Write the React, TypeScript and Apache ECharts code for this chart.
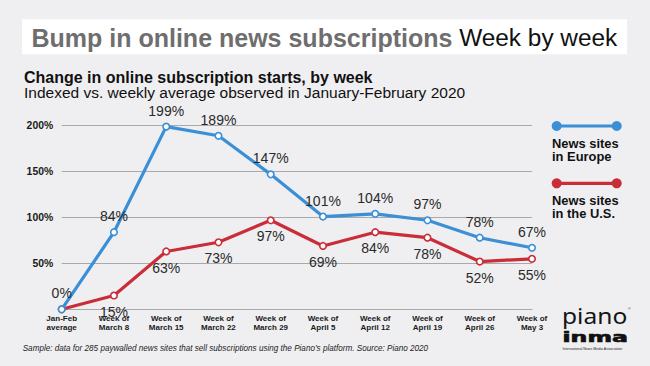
import React, { useEffect, useRef } from "react";
import * as echarts from "echarts";

const categories = [
  "Jan-Feb\naverage",
  "Week of\nMarch 8",
  "Week of\nMarch 15",
  "Week of\nMarch 22",
  "Week of\nMarch 29",
  "Week of\nApril 5",
  "Week of\nApril 12",
  "Week of\nApril 19",
  "Week of\nApril 26",
  "Week of\nMay 3",
];
const europeValues = [0, 84, 199, 189, 147, 101, 104, 97, 78, 67];
const usValues = [0, 15, 63, 73, 97, 69, 84, 78, 52, 55];
const seriesNames = ["News sites\nin Europe", "News sites\nin the U.S."];
const yMin = 0;
const yMax = 200;
const yInterval = 50;

const BLUE = "#3b8fd6";
const RED = "#c92d38";
const FONT = "'Liberation Sans', Arial, Helvetica, sans-serif";

export default function App() {
  const ref = useRef<HTMLDivElement>(null);
  useEffect(() => {
    if (!ref.current) return;
    const chart = echarts.init(ref.current, null, { renderer: "svg" });
    const legendItems = [
      { color: BLUE, name: seriesNames[0], y: 126 },
      { color: RED, name: seriesNames[1], y: 183.3 },
    ];
    const graphic: any[] = [
      {
        type: "rect",
        shape: { x: 22, y: 19.3, width: 605, height: 35 },
        style: { fill: "#ffffff" },
        silent: true,
      },
      {
        type: "text",
        x: 31.5,
        y: 37.5,
        style: {
          text: "{b|Bump in online news subscriptions}{r| Week by week}",
          verticalAlign: "middle",
          rich: {
            b: { fontFamily: FONT, fontSize: 25, fontWeight: "bold", fill: "#6e6e6e" },
            r: { fontFamily: FONT, fontSize: 24.4, fontWeight: "normal", fill: "#111111" },
          },
        },
      },
      {
        type: "text",
        x: 24,
        y: 77,
        style: {
          text: "Change in online subscription starts, by week",
          fontFamily: FONT,
          fontSize: 16,
          fontWeight: "bold",
          fill: "#111111",
          verticalAlign: "middle",
        },
      },
      {
        type: "text",
        x: 24,
        y: 92.3,
        style: {
          text: "Indexed vs. weekly average observed in January-February 2020",
          fontFamily: FONT,
          fontSize: 15.5,
          fill: "#111111",
          verticalAlign: "middle",
        },
      },
      {
        type: "text",
        x: 22.7,
        y: 348,
        style: {
          text: "Sample: data for 285 paywalled news sites that sell subscriptions using the Piano\u2019s platform. Source: Piano 2020",
          fontFamily: FONT,
          fontSize: 8.15,
          fontStyle: "italic",
          fill: "#222222",
          verticalAlign: "middle",
        },
      },
      {
        type: "text",
        x: 562,
        y: 316,
        scaleX: 1.17,
        style: {
          text: "piano",
          fontFamily: "'Noto Sans', sans-serif",
          fontSize: 21,
          fill: "#151515",
          verticalAlign: "middle",
        },
      },
      {
        type: "text",
        x: 628,
        y: 309,
        style: {
          text: "\u00ae",
          fontFamily: FONT,
          fontSize: 3.5,
          fill: "#333333",
          verticalAlign: "middle",
        },
      },
      {
        type: "text",
        x: 562.5,
        y: 337.5,
        scaleX: 1.75,
        style: {
          text: "inma",
          fontFamily: "'DejaVu Sans', sans-serif",
          fontSize: 13.5,
          fontWeight: "bold",
          fill: "#111111",
          stroke: "#111111",
          lineWidth: 0.6,
          verticalAlign: "middle",
        },
      },
      {
        type: "text",
        x: 562.5,
        y: 349,
        style: {
          text: "International News Media Association",
          fontFamily: FONT,
          fontSize: 3.6,
          fill: "#222222",
          verticalAlign: "middle",
        },
      },
    ];
    legendItems.forEach((it) => {
      const lines = it.name.split("\n");
      graphic.push(
        {
          type: "line",
          shape: { x1: 556.7, y1: it.y, x2: 616.7, y2: it.y },
          style: { stroke: it.color, lineWidth: 3.2 },
        },
        { type: "circle", shape: { cx: 556.7, cy: it.y, r: 5 }, style: { fill: it.color } },
        { type: "circle", shape: { cx: 616.7, cy: it.y, r: 5 }, style: { fill: it.color } }
      );
      lines.forEach((ln, i) => {
        graphic.push({
          type: "text",
          x: 552,
          y: it.y + 17 + i * 13.1,
          style: {
            text: ln,
            fontFamily: FONT,
            fontSize: 12.9,
            fontWeight: "bold",
            fill: "#111111",
            verticalAlign: "middle",
          },
        });
      });
    });

    const labelStyle = {
      show: true,
      fontFamily: FONT,
      fontSize: 14,
      color: "#2a2a2a",
      distance: 5,
    };

    chart.setOption({
      animation: false,
      backgroundColor: "#efeff1",
      grid: { left: 61.7, right: 118, top: 125.7, bottom: 56.7, containLabel: false },
      xAxis: {
        type: "category",
        data: categories,
        boundaryGap: false,
        axisLine: { show: true, lineStyle: { color: "#a9a9a9", width: 1 } },
        axisTick: { show: false },
        axisLabel: {
          fontFamily: FONT,
          fontSize: 8,
          fontWeight: "bold",
          color: "#1a1a1a",
          lineHeight: 9.8,
          margin: 4,
          interval: 0,
        },
      },
      yAxis: {
        type: "value",
        min: yMin,
        max: yMax,
        interval: yInterval,
        axisLine: { show: false },
        axisTick: { show: false },
        splitLine: { show: true, lineStyle: { color: "#a9a9a9", width: 1 } },
        axisLabel: {
          fontFamily: FONT,
          fontSize: 10.4,
          fontWeight: "bold",
          color: "#1a1a1a",
          margin: 8.5,
          formatter: (v: number) => (v === 0 ? "" : v + "%"),
        },
      },
      series: [
        {
          name: seriesNames[1],
          type: "line",
          data: usValues,
          symbol: "circle",
          symbolSize: 6.5,
          lineStyle: { color: RED, width: 3.2 },
          itemStyle: { color: "#ffffff", borderColor: RED, borderWidth: 1.6 },
          label: {
            ...labelStyle,
            position: "bottom",
            formatter: (p: any) => (p.dataIndex === 0 ? "" : p.value + "%"),
          },
          z: 2,
        },
        {
          name: seriesNames[0],
          type: "line",
          data: europeValues,
          symbol: "circle",
          symbolSize: 6.5,
          lineStyle: { color: BLUE, width: 3.2 },
          itemStyle: { color: "#ffffff", borderColor: BLUE, borderWidth: 1.6 },
          label: {
            ...labelStyle,
            position: "top",
            formatter: (p: any) => p.value + "%",
          },
          z: 3,
        },
      ],
      graphic,
    });
    return () => chart.dispose();
  }, []);
  return (
    <div
      ref={ref}
      style={{ position: "absolute", left: 0, top: 0, width: 650, height: 366 }}
    />
  );
}
